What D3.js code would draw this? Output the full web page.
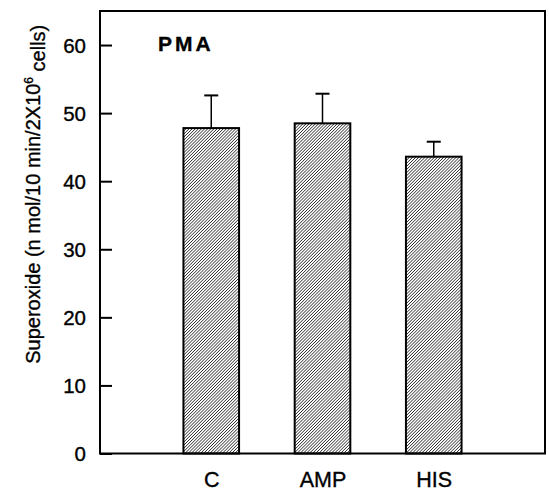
<!DOCTYPE html>
<html>
<head>
<meta charset="utf-8">
<script src="https://cdn.jsdelivr.net/npm/d3@7"></script>
<style>
  html, body { margin: 0; padding: 0; background: #fff; }
  svg { display: block; }
  text { font-family: "Liberation Sans", Arial, sans-serif; fill: #000; stroke: #000; stroke-width: 0.35px; }
</style>
</head>
<body>
<script>
// Superoxide production after PMA stimulation
const categories = ["C", "AMP", "HIS"];
const means = [47.8, 48.5, 43.6];
const errors = [4.8, 4.35, 2.2];
const yTicks = [0, 10, 20, 30, 40, 50, 60];

const W = 549, H = 493;
const svg = d3.select("body").append("svg").attr("width", W).attr("height", H);

const plotLeft = 100, plotRight = 545, plotTop = 11, plotBottom = 453.5;

const x = d3.scaleLinear().domain([0, categories.length + 1]).range([plotLeft, plotRight]);
const y = d3.scaleLinear().domain([0, 65]).range([plotBottom, plotTop]);

// diagonal hatch fill
const defs = svg.append("defs");
const hs = 2.2;
const pat = defs.append("pattern")
  .attr("id", "hatch")
  .attr("patternUnits", "userSpaceOnUse")
  .attr("width", hs).attr("height", hs)
  .attr("patternTransform", "rotate(45)");
pat.append("rect").attr("width", hs).attr("height", hs).attr("fill", "#fff");
pat.append("line")
  .attr("x1", 0).attr("y1", 0).attr("x2", 0).attr("y2", hs)
  .attr("stroke", "#000").attr("stroke-width", 1.2);

const barW = x(0.5) - x(0);

// bars
svg.selectAll("rect.bar").data(categories).enter().append("rect")
  .attr("class", "bar")
  .attr("x", (d, i) => x(i + 1) - barW / 2)
  .attr("y", (d, i) => y(means[i]))
  .attr("width", barW)
  .attr("height", (d, i) => y(0) - y(means[i]))
  .attr("fill", "url(#hatch)")
  .attr("stroke", "#000")
  .attr("stroke-width", 2);

// upper error bars
const capW = 14;
categories.forEach((c, i) => {
  const cx = x(i + 1);
  svg.append("line")
    .attr("x1", cx).attr("x2", cx)
    .attr("y1", y(means[i])).attr("y2", y(means[i] + errors[i]))
    .attr("stroke", "#000").attr("stroke-width", 1.5);
  svg.append("line")
    .attr("x1", cx - capW / 2).attr("x2", cx + capW / 2)
    .attr("y1", y(means[i] + errors[i])).attr("y2", y(means[i] + errors[i]))
    .attr("stroke", "#000").attr("stroke-width", 2);
});

// frame
svg.append("rect")
  .attr("x", plotLeft).attr("y", plotTop)
  .attr("width", plotRight - plotLeft).attr("height", plotBottom - plotTop)
  .attr("fill", "none").attr("stroke", "#000").attr("stroke-width", 2);

// y axis: inward ticks
const yAxis = d3.axisLeft(y).tickValues(yTicks).tickSize(-12).tickPadding(14).tickFormat(d3.format("d"));
const gy = svg.append("g").attr("transform", `translate(${plotLeft},0)`).call(yAxis);
gy.select(".domain").remove();
gy.selectAll(".tick line").attr("stroke", "#000").attr("stroke-width", 2);
gy.selectAll(".tick text")
  .style("font-size", "20.5px")
  .attr("dy", "0.36em")
  .attr("x", -14);

// x labels
const xAxis = d3.axisBottom(x).tickValues(categories.map((c, i) => i + 1))
  .tickFormat((d) => categories[d - 1]).tickSize(0).tickPadding(18);
const gx = svg.append("g").attr("transform", `translate(0,${plotBottom})`).call(xAxis);
gx.select(".domain").remove();
gx.selectAll(".tick text").style("font-size", "21.5px").attr("dy", "0.71em");

// panel label
svg.append("text")
  .attr("x", 158).attr("y", 51)
  .style("font-size", "21px").style("font-weight", "bold")
  .style("letter-spacing", "3px")
  .text("PMA");

// y axis title
const yt = svg.append("text")
  .attr("transform", `translate(40,${(plotTop + plotBottom) / 2 - 38}) rotate(-90)`)
  .attr("text-anchor", "middle")
  .style("font-size", "20px");
yt.append("tspan").text("Superoxide (n mol/10 min/2X10");
yt.append("tspan").attr("dy", "-0.6em").style("font-size", "12px").text("6");
yt.append("tspan").attr("dy", "0.6em").text(" cells)");
</script>
</body>
</html>
